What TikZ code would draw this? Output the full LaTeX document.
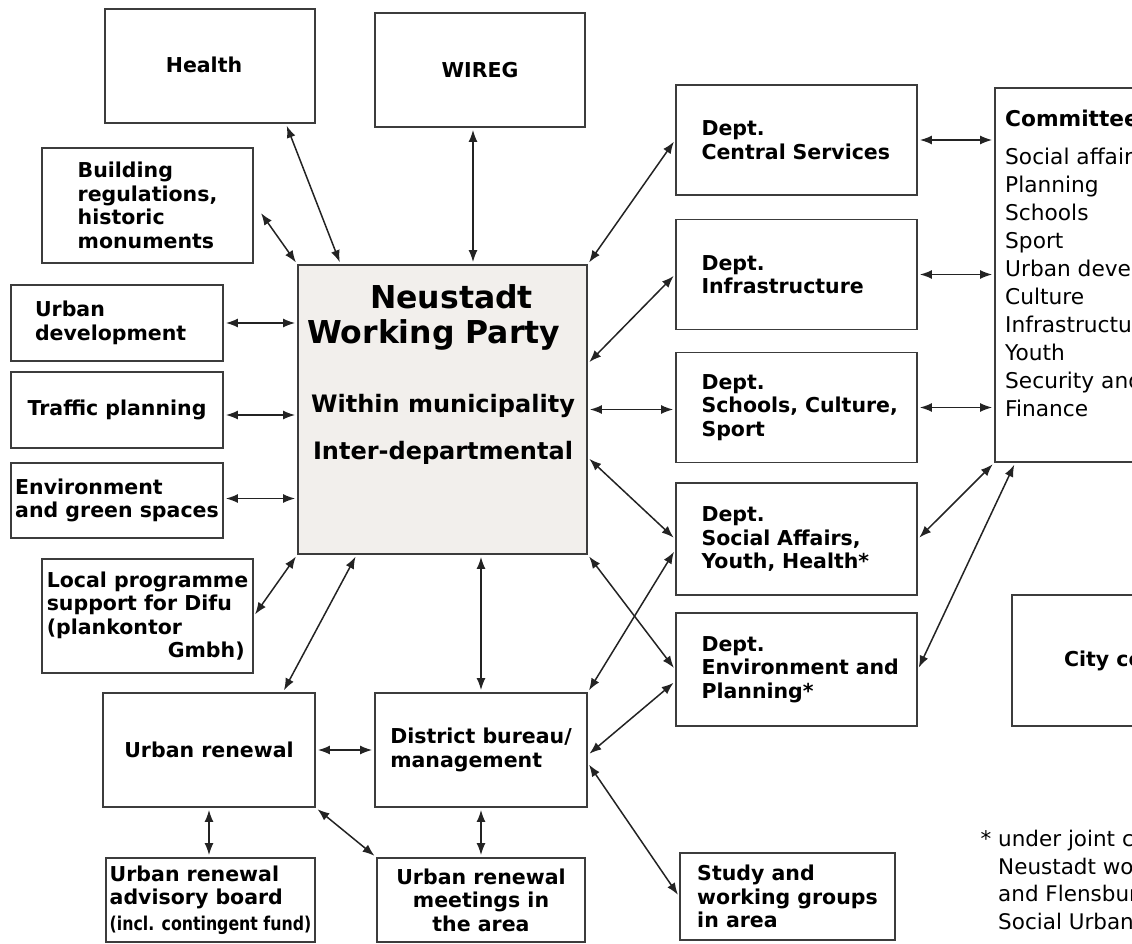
\documentclass[tikz,border=0pt]{standalone}
\usepackage{graphicx}
\usepackage{fontspec}
\setmainfont{DejaVu Sans}
\usetikzlibrary{arrows.meta}

\definecolor{boxline}{RGB}{60,60,60}
\definecolor{linkline}{RGB}{35,35,35}
\definecolor{partyfill}{RGB}{242,239,236}

\newcommand{\unitfont}{\fontsize{20.5}{23.5}\selectfont\bfseries}
\newcommand{\listfont}{\fontsize{21.7}{28}\selectfont}

\begin{document}
\begin{tikzpicture}[x=1pt,y=-1pt,
    unit/.style={draw=boxline, line width=1.8pt, align=left, font=\unitfont, inner sep=0pt},
    dept/.style={unit, minimum width=241pt, minimum height=110pt, text width=190pt},
    plain/.style={inner sep=0pt},
    link/.style={{Latex[length=12pt,width=9pt]}-{Latex[length=12pt,width=9pt]}, line width=1.5pt, draw=linkline, shorten <=2pt, shorten >=2pt}]

    \useasboundingbox (0,0) rectangle (1132,944);
    \clip (0,0) rectangle (1132,944);

    % Working party
    \node[unit, fill=partyfill, minimum width=289pt, minimum height=289pt] (wp) at (442.5,409.5) {};
    \node[plain, font=\fontsize{31.5}{35}\selectfont\bfseries, align=left, anchor=west] (wptitle) at (307,317.5) {\hspace*{63pt}Neustadt\\Working Party};
    \node[plain, font=\fontsize{24}{29}\selectfont\bfseries, align=center] (wpscope) at (443,429) {Within municipality\\[18pt]Inter-departmental};

    % Left side
    \node[unit, minimum width=210pt, minimum height=114pt] (health) at (210,66) {\raisebox{3pt}{Health}\hspace*{12pt}};
    \node[unit, minimum width=210pt, minimum height=114pt] (wireg) at (480,70) {WIREG};
    \node[unit, minimum width=211pt, minimum height=115pt] (building) at (147.5,205.5) {Building\\regulations,\\historic\\monuments};
    \node[unit, minimum width=212pt, minimum height=76pt, text width=164pt] (urbandev) at (117,323) {Urban\\development};
    \node[unit, minimum width=212pt, minimum height=76pt] (traffic) at (117,410) {Traffic planning};
    \node[unit, minimum width=212pt, minimum height=75pt] (environment) at (117,500.5) {Environment\\and green spaces};
    \node[unit, minimum width=211pt, minimum height=114pt] (localprog) at (147.5,616) {Local programme\\support for Difu\\(plankontor\\\hspace*{121pt}Gmbh)};

    % Urban renewal
    \node[unit, minimum width=212pt, minimum height=114pt] (renewal) at (209,750) {Urban renewal};
    \node[unit, minimum width=212pt, minimum height=114pt] (district) at (481,750) {District bureau/\\management};
    \node[unit, minimum width=209pt, minimum height=84pt] (advisory) at (210.5,900) {Urban renewal\\advisory board\\[2pt]\scalebox{0.83}[1]{\fontsize{19}{20}\selectfont(incl. contingent fund)}};
    \node[unit, align=center, minimum width=208pt, minimum height=84pt] (meetings) at (481,900) {Urban renewal\\meetings in\\the area};
    \node[unit, minimum width=215pt, minimum height=87pt] (study) at (787.5,896.5) {Study and\\working groups\\in area};

    % Departments
    \node[dept] (central) at (796.5,140) {Dept.\\Central Services};
    \node[dept] (infra) at (796.5,274.5) {Dept.\\Infrastructure};
    \node[dept] (schools) at (796.5,407.5) {Dept.\\\mbox{Schools, Culture,}\\Sport};
    \node[dept, minimum height=112pt] (social) at (796.5,539) {Dept.\\Social Affairs,\\Youth, Health*};
    \node[dept, minimum height=113pt] (envplan) at (796.5,669.5) {Dept.\\\mbox{Environment and}\\Planning*};

    % Committees and council
    \node[unit, minimum width=238pt, minimum height=374pt] (committees) at (1114,275) {};
    \node[plain, anchor=north west, align=left, font=\listfont] (commlist) at (1005,110) {\textbf{Committees}\\[10pt]Social affairs\\Planning\\Schools\\Sport\\Urban development\\Culture\\Infrastructure\\Youth\\Security and order\\Finance};
    \node[unit, minimum width=238pt, minimum height=131pt] (council) at (1131,660.5) {City council};

    % Footnote
    \node[plain, anchor=north west, align=left, font=\fontsize{21.5}{27.5}\selectfont] (note) at (998,830) {\llap{* }under joint control\\Neustadt working party\\and Flensburg\\Social Urban};

    % Links to the working party
    \draw[link] ([shift={(76,0)}]health.south) -- ([shift={(-102,0)}]wp.north);
    \draw[link] ([shift={(-7,0)}]wireg.south) -- ([shift={(-7,0)}]wireg.south |- wp.north);
    \draw[link] ([shift={(6,6)}]building.east) -- (wp.north west);
    \draw[link] (urbandev.east) -- (urbandev.east -| wp.west);
    \draw[link] ([shift={(0,5)}]traffic.east) -- ([shift={(0,5)}]traffic.east -| wp.west);
    \draw[link] ([shift={(0,-2)}]environment.east) -- ([shift={(0,-2)}]environment.east -| wp.west);
    \draw[link] (localprog.east) -- (wp.south west);
    \draw[link] ([shift={(-86,0)}]wp.south) -- ([shift={(74,0)}]renewal.north);
    \draw[link] (district.north |- wp.south) -- (district.north);
    \draw[link] (wp.north east) -- (central.west);
    \draw[link] ([shift={(0,-46)}]wp.east) -- (infra.west);
    \draw[link] (wp.east) -- (wp.east -| schools.west);
    \draw[link] ([shift={(0,48)}]wp.east) -- (social.west);
    \draw[link] (wp.south east) -- (envplan.west);

    % Department links
    \draw[link] ([shift={(0,11)}]social.west) -- (district.north east);
    \draw[link] ([shift={(0,12)}]envplan.west) -- ([shift={(0,5)}]district.east);
    \draw[link] ([shift={(0,13)}]district.east) -- (study.west);
    \draw[link] (central.east) -- (central.east -| committees.west);
    \draw[link] (infra.east) -- (infra.east -| committees.west);
    \draw[link] (schools.east) -- (schools.east -| committees.west);
    \draw[link] (social.east) -- (committees.south west);
    \draw[link] (envplan.east) -- ([shift={(21,0)}]committees.south west);

    % Urban renewal links
    \draw[link] (renewal.east) -- (district.west);
    \draw[link] (renewal.south) -- (renewal.south |- advisory.north);
    \draw[link] (district.south) -- (district.south |- meetings.north);
    \draw[link] (renewal.south east) -- (meetings.north west);

\end{tikzpicture}
\end{document}
